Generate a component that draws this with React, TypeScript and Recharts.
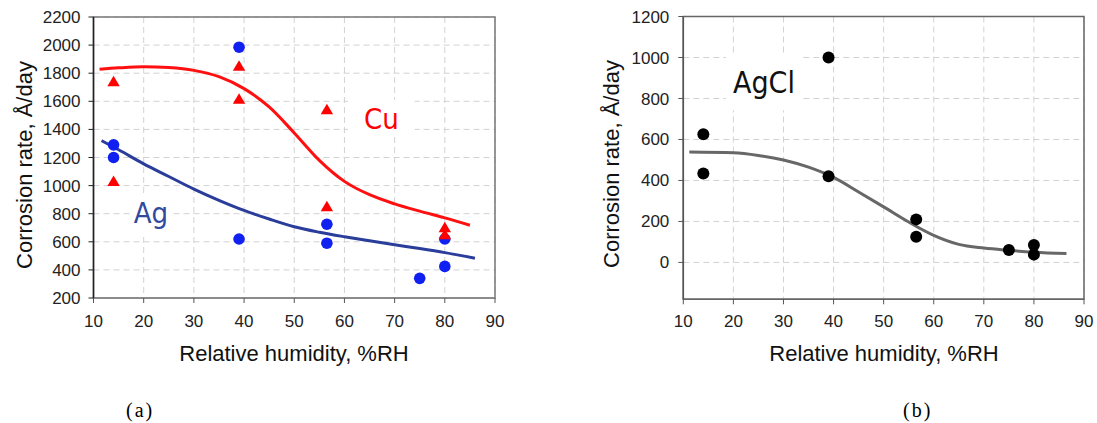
import {
  CartesianGrid,
  ComposedChart,
  Line,
  ReferenceArea,
  Scatter,
  XAxis,
  YAxis,
} from 'recharts';

// x axis (both panels)
const humidityTicks = [10, 20, 30, 40, 50, 60, 70, 80, 90];

// panel (a): Ag and Cu
const leftRateTicks = [200, 400, 600, 800, 1000, 1200, 1400, 1600, 1800, 2000, 2200];
const agHumidity = [14, 14, 39, 39, 56.5, 56.5, 75, 80, 80];
const agRate = [1290, 1200, 1985, 620, 725, 590, 340, 425, 620];
const cuHumidity = [14, 14, 39, 39, 56.5, 56.5, 80, 80];
const cuRate = [1740, 1030, 1850, 1615, 1540, 850, 700, 650];

const agFitHumidity = [11.6, 15, 20, 25, 30, 35, 40, 45, 50, 55, 60, 65, 70, 75, 80, 86];
const agFitRate = [1320, 1255, 1155, 1065, 975, 895, 823, 762, 707, 668, 636, 607, 579, 552, 523, 483];
const cuFitHumidity = [11.2, 15, 20, 25, 30, 35, 40, 45, 50, 55, 60, 65, 70, 75, 80, 85];
const cuFitRate = [1828, 1838, 1846, 1840, 1820, 1775, 1690, 1560, 1375, 1180, 1030, 935, 870, 818, 770, 718];

// panel (b): AgCl
const rightRateTicks = [0, 200, 400, 600, 800, 1000, 1200];
const agclHumidity = [14, 14, 39, 39, 56.5, 56.5, 75, 80, 80];
const agclRate = [625, 434, 1000, 420, 210, 125, 60, 85, 38];
const agclFitHumidity = [11.2, 20, 25, 30, 35, 40, 45, 50, 55, 60, 65, 70, 75, 80, 86.5];
const agclFitRate = [539, 535, 522, 500, 465, 415, 344, 271, 197, 132, 88, 70, 59, 50, 43];

const toPoints = (xs: number[], ys: number[]) => xs.map((x, i) => ({ x, y: ys[i] }));

const SANS = '"Liberation Sans", Arial, sans-serif';
const NARROW = '"Liberation Sans Narrow", "DejaVu Sans Condensed", "Liberation Sans", sans-serif';
const tickStyle = { fontSize: 17, fill: '#222', fontFamily: SANS };

const dot = (color: string, r: number) => (p: any) => <circle cx={p.cx} cy={p.cy} r={r} fill={color} />;

const triangle = (p: any) => (
  <polygon
    points={`${p.cx},${p.cy - 6} ${p.cx + 6.2},${p.cy + 4.5} ${p.cx - 6.2},${p.cy + 4.5}`}
    fill="#ff0000"
  />
);

function YTitle({ px, py }: { px: number; py: number }) {
  return (
    <text
      x={px}
      y={py}
      transform={`rotate(-90, ${px}, ${py})`}
      textAnchor="middle"
      dominantBaseline="central"
      fontSize={22}
      fontFamily={SANS}
      fill="#111"
    >
      Corrosion rate, Å/day
    </text>
  );
}

function XTitle({ px, py }: { px: number; py: number }) {
  return (
    <text x={px} y={py} textAnchor="middle" fontSize={22} fontFamily={SANS} fill="#111">
      Relative humidity, %RH
    </text>
  );
}

function PanelA() {
  return (
    <ComposedChart width={520} height={375} margin={{ top: 17, right: 25, left: 0, bottom: 30 }}>
      <CartesianGrid stroke="#d2d2d2" strokeDasharray="6 4" />
      <XAxis
        type="number"
        dataKey="x"
        domain={[10, 90]}
        ticks={humidityTicks}
        height={47}
        tickSize={5}
        tickMargin={12}
        tick={tickStyle}
        axisLine={{ stroke: '#888', strokeWidth: 1.5 }}
        tickLine={{ stroke: '#555' }}
        label={<XTitle px={294} py={361} />}
      />
      <YAxis
        type="number"
        dataKey="y"
        domain={[200, 2200]}
        ticks={leftRateTicks}
        width={93.5}
        tickSize={5}
        tickMargin={8}
        tick={tickStyle}
        axisLine={{ stroke: '#222', strokeWidth: 1.5 }}
        tickLine={{ stroke: '#222' }}
        label={<YTitle px={24} py={165} />}
      />
      <ReferenceArea x1={10} x2={90} y1={200} y2={2200} fill="none" stroke="#777" strokeWidth={1.5} />
      <ReferenceArea
        x1={60.7}
        x2={74}
        y1={1346}
        y2={1609}
        fill="#fff"
        fillOpacity={1}
        stroke="none"
        label={{ value: 'Cu', position: 'center', fill: '#ff0000', fontSize: 29, fontFamily: NARROW }}
      />
      <ReferenceArea
        x1={17.3}
        x2={25.6}
        y1={663}
        y2={947}
        fill="#fff"
        fillOpacity={1}
        stroke="none"
        label={{ value: 'Ag', position: 'center', fill: '#2f4a9e', fontSize: 29, fontFamily: NARROW }}
      />
      <Line
        data={toPoints(cuFitHumidity, cuFitRate)}
        dataKey="y"
        type="monotone"
        stroke="#ff1010"
        strokeWidth={3}
        dot={false}
        isAnimationActive={false}
      />
      <Line
        data={toPoints(agFitHumidity, agFitRate)}
        dataKey="y"
        type="monotone"
        stroke="#2a3d9a"
        strokeWidth={3}
        dot={false}
        isAnimationActive={false}
      />
      <Scatter
        data={toPoints(agHumidity, agRate)}
        dataKey="y"
        shape={dot('#1020f0', 5.8)}
        isAnimationActive={false}
      />
      <Scatter
        data={toPoints(cuHumidity, cuRate)}
        dataKey="y"
        shape={triangle}
        isAnimationActive={false}
      />
    </ComposedChart>
  );
}

function PanelB() {
  return (
    <ComposedChart width={517} height={375} margin={{ top: 16.5, right: 13, left: 0, bottom: 30 }}>
      <CartesianGrid stroke="#d2d2d2" strokeDasharray="6 4" />
      <XAxis
        type="number"
        dataKey="x"
        domain={[10, 90]}
        ticks={humidityTicks}
        height={45.7}
        tickSize={5}
        tickMargin={11}
        tick={tickStyle}
        axisLine={{ stroke: '#666', strokeWidth: 1.5 }}
        tickLine={{ stroke: '#555' }}
        label={<XTitle px={304} py={361} />}
      />
      <YAxis
        type="number"
        dataKey="y"
        domain={[-180, 1200]}
        ticks={rightRateTicks}
        allowDataOverflow
        width={103.3}
        tickSize={5}
        tickMargin={9}
        tick={tickStyle}
        axisLine={{ stroke: '#555', strokeWidth: 1.5 }}
        tickLine={{ stroke: '#555' }}
        label={<YTitle px={31} py={164} />}
      />
      <ReferenceArea x1={10} x2={90} y1={-180} y2={1200} fill="none" stroke="#666" strokeWidth={1.5} />
      <ReferenceArea
        x1={18.5}
        x2={33.7}
        y1={742}
        y2={1016}
        fill="#fff"
        fillOpacity={1}
        stroke="none"
        label={{ value: 'AgCl', position: 'center', fill: '#111', fontSize: 30, fontFamily: NARROW }}
      />
      <Line
        data={toPoints(agclFitHumidity, agclFitRate)}
        dataKey="y"
        type="monotone"
        stroke="#676767"
        strokeWidth={3}
        dot={false}
        isAnimationActive={false}
      />
      <Scatter
        data={toPoints(agclHumidity, agclRate)}
        dataKey="y"
        shape={dot('#000', 6)}
        isAnimationActive={false}
      />
    </ComposedChart>
  );
}

const captionStyle = {
  position: 'absolute' as const,
  top: 400,
  fontSize: 20,
  lineHeight: '20px',
  letterSpacing: 2,
  fontFamily: '"Liberation Serif", "Times New Roman", serif',
  color: '#000',
};

export default function App() {
  return (
    <div
      style={{
        position: 'absolute',
        left: 0,
        top: 0,
        width: 1097,
        height: 423,
        background: '#fff',
        overflow: 'hidden',
      }}
    >
      <div style={{ position: 'absolute', left: 0, top: 0 }}>
        <PanelA />
      </div>
      <div style={{ position: 'absolute', left: 580, top: 0 }}>
        <PanelB />
      </div>
      <div style={{ ...captionStyle, left: 126 }}>(a)</div>
      <div style={{ ...captionStyle, left: 903 }}>(b)</div>
    </div>
  );
}
